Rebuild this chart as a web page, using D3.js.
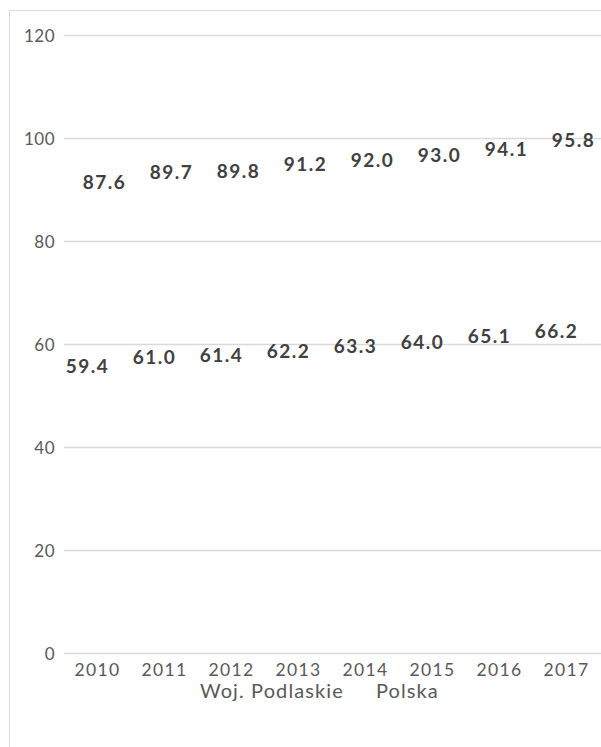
<!DOCTYPE html>
<html>
<head>
<meta charset="utf-8">
<script src="https://cdn.jsdelivr.net/npm/d3@7/dist/d3.min.js"></script>
<style>
  html, body { margin: 0; padding: 0; background: #fff; }
  svg { display: block; font-family: Lato, "Open Sans", sans-serif; }
</style>
</head>
<body>
<svg id="chart" width="601" height="747"></svg>
<script>
const years = ["2010", "2011", "2012", "2013", "2014", "2015", "2016", "2017"];
const podlaskie = [59.4, 61.0, 61.4, 62.2, 63.3, 64.0, 65.1, 66.2];
const polska = [87.6, 89.7, 89.8, 91.2, 92.0, 93.0, 94.1, 95.8];
const yTicks = [0, 20, 40, 60, 80, 100, 120];
const seriesNames = ["Woj. Podlaskie", "Polska"];

const svg = d3.select("#chart");

svg.append("rect")
  .attr("x", 9.5).attr("y", 10.5)
  .attr("width", 640).attr("height", 800)
  .attr("fill", "none").attr("stroke", "#d9d9d9").attr("stroke-width", 1);

const x = d3.scaleBand().domain(years).range([64, 600]);
const y = d3.scaleLinear().domain([0, 120]).range([653.5, 35.5]);

// gridlines
svg.append("g").selectAll("line").data(yTicks).join("line")
  .attr("x1", 64).attr("x2", 601)
  .attr("y1", d => y(d)).attr("y2", d => y(d))
  .attr("stroke", "#d9d9d9").attr("stroke-width", 1.3);

// y axis labels
svg.append("g").selectAll("text").data(yTicks).join("text")
  .attr("x", 55).attr("y", d => y(d)).attr("dy", "0.36em")
  .attr("text-anchor", "end")
  .attr("font-size", 17).attr("letter-spacing", 0.5).attr("fill", "#595959")
  .text(d => d);

// x axis labels
svg.append("g").selectAll("text").data(years).join("text")
  .attr("x", d => x(d) + x.bandwidth() / 2).attr("y", 676)
  .attr("text-anchor", "middle")
  .attr("font-size", 17.5).attr("letter-spacing", 1.4).attr("fill", "#595959")
  .text(d => d);

// data labels - Polska (upper)
svg.append("g").selectAll("text").data(polska).join("text")
  .attr("x", (d, i) => x(years[i]) + x.bandwidth() / 2 + 7)
  .attr("y", d => y(d) - 13)
  .attr("text-anchor", "middle")
  .attr("font-size", 19).attr("font-weight", "bold").attr("letter-spacing", 1.5)
  .attr("fill", "#404040")
  .text(d => d.toFixed(1));

// data labels - Woj. Podlaskie (lower)
svg.append("g").selectAll("text").data(podlaskie).join("text")
  .attr("x", (d, i) => x(years[i]) + x.bandwidth() / 2 - 10)
  .attr("y", d => y(d) + 25)
  .attr("text-anchor", "middle")
  .attr("font-size", 19).attr("font-weight", "bold").attr("letter-spacing", 1.5)
  .attr("fill", "#404040")
  .text(d => d.toFixed(1));

// legend
const legendX = [200, 376];
svg.append("g").selectAll("text").data(seriesNames).join("text")
  .attr("x", (d, i) => legendX[i]).attr("y", 698)
  .attr("font-size", 20).attr("letter-spacing", 1.1).attr("fill", "#595959")
  .text(d => d);
</script>
</body>
</html>
